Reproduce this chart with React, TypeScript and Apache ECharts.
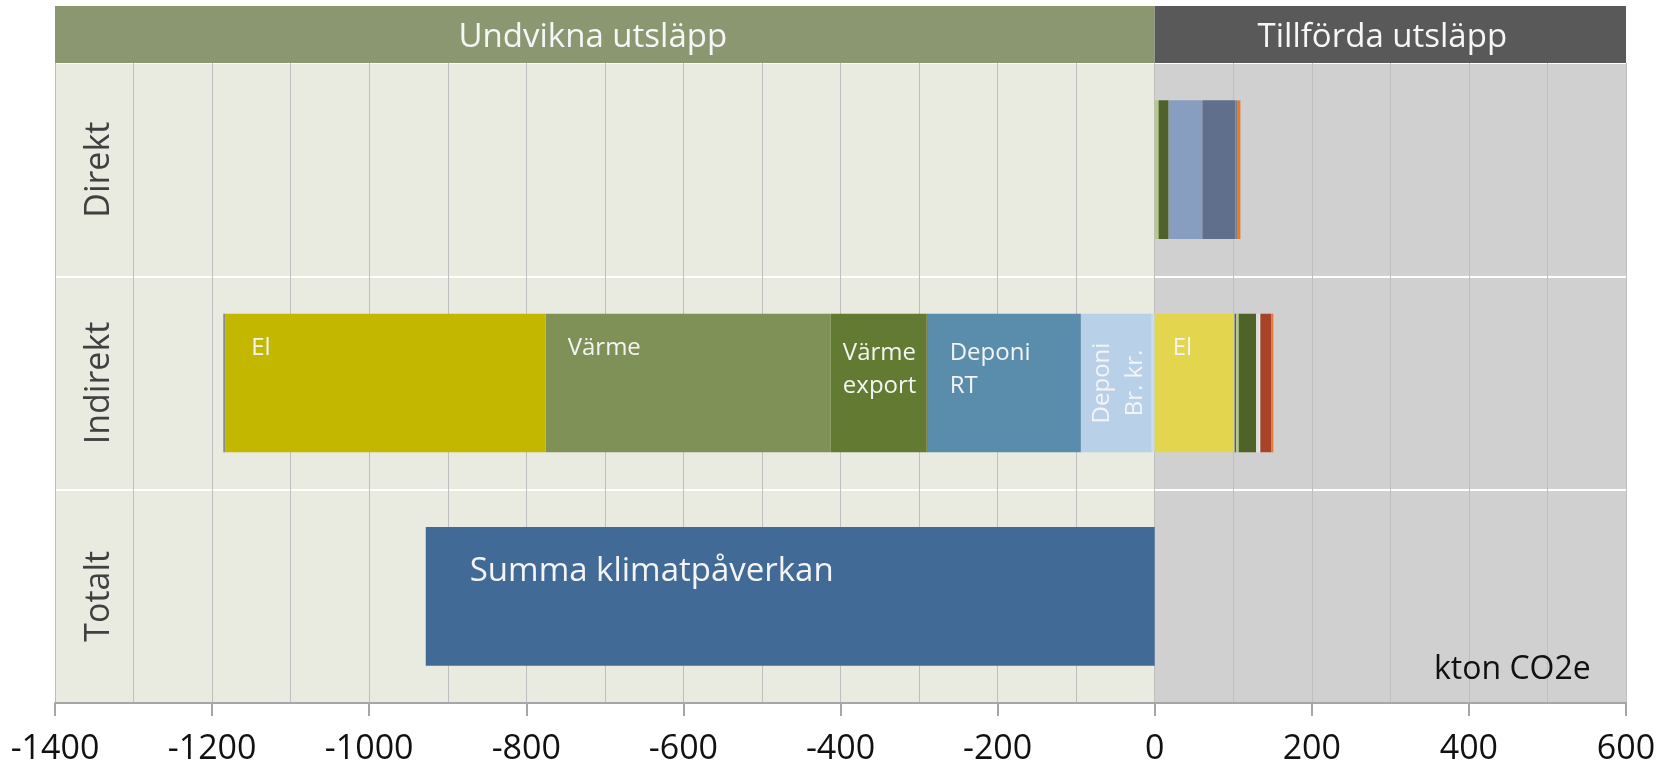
import React, { useEffect, useRef } from 'react';
import * as echarts from 'echarts';

// ---------- data ----------
const categories = ['Direkt', 'Indirekt', 'Totalt'];
const xMin = -1400;
const xMax = 600;
const xStep = 200;
const headerLabels = ['Undvikna utsläpp', 'Tillförda utsläpp'];
const headerStarts = [-1400, 0];
const headerEnds = [0, 600];
const unitLabel = 'kton CO2e';

// values per category: [Direkt, Indirekt, Totalt]
// avoided emissions (negative), listed from 0 outward
const deponiBrKrKant = [0, -4, 0];
const deponiBrKr = [0, -90, 0];
const deponiRT = [0, -195, 0];
const deponiOvrigt = [0, -1.3, 0];
const varmeExport = [0, -122, 0];
const varme = [0, -363, 0];
const elUndviken = [0, -408, 0];
const ovrigtUndviken = [0, -2.5, 0];
// added emissions (positive), listed from 0 outward
const elTillford = [0, 101, 0];
const ovrigtGra = [0, 1.3, 0];
const transport = [0, 1.3, 0];
const kemikalier = [5, 3.4, 0];
const bransle = [12.7, 22, 0];
const fossilPlast = [43, 0, 0];
const fossilOvrigt = [42, 0, 0];
const ljusOvrigt = [0, 3.5, 0];
const blekOvrigt = [0, 2, 0];
const restprodukter = [0, 14, 0];
const lustgas = [3, 0, 0];
const metan = [3.4, 2.5, 0];
// total
const summa = [0, 0, -928];

const seriesDefs = [
  { key: 'deponiBrKrKant', name: 'Deponi Br. kr. övrigt', data: deponiBrKrKant },
  { key: 'deponiBrKr', name: 'Deponi Br. kr.', data: deponiBrKr },
  { key: 'deponiRT', name: 'Deponi RT', data: deponiRT },
  { key: 'deponiOvrigt', name: 'Deponi övrigt', data: deponiOvrigt },
  { key: 'varmeExport', name: 'Värme export', data: varmeExport },
  { key: 'varme', name: 'Värme', data: varme },
  { key: 'elUndviken', name: 'El', data: elUndviken },
  { key: 'ovrigtUndviken', name: 'Övrigt', data: ovrigtUndviken },
  { key: 'elTillford', name: 'El tillförd', data: elTillford },
  { key: 'ovrigtGra', name: 'Övrigt tillfört', data: ovrigtGra },
  { key: 'transport', name: 'Transport', data: transport },
  { key: 'kemikalier', name: 'Kemikalier', data: kemikalier },
  { key: 'bransle', name: 'Bränsle', data: bransle },
  { key: 'fossilPlast', name: 'Fossil plast', data: fossilPlast },
  { key: 'fossilOvrigt', name: 'Fossilt övrigt', data: fossilOvrigt },
  { key: 'ljusOvrigt', name: 'Övrigt 2', data: ljusOvrigt },
  { key: 'blekOvrigt', name: 'Övrigt 3', data: blekOvrigt },
  { key: 'restprodukter', name: 'Restprodukter', data: restprodukter },
  { key: 'lustgas', name: 'Lustgas', data: lustgas },
  { key: 'metan', name: 'Metan', data: metan },
  { key: 'summa', name: 'Summa klimatpåverkan', data: summa },
];

// ---------- styles ----------
const FONT = '"Open Sans", "Noto Sans", sans-serif';
const colors: Record<string, string> = {
  deponiBrKrKant: '#cadcef',
  deponiBrKr: '#b8d0e8',
  deponiRT: '#5a8dab',
  deponiOvrigt: '#a04030',
  varmeExport: '#627a31',
  varme: '#7f9157',
  elUndviken: '#c4b700',
  ovrigtUndviken: '#8c8c8c',
  elTillford: '#e4d54e',
  ovrigtGra: '#a0a0a0',
  transport: '#2e56a8',
  kemikalier: '#b4ca8a',
  bransle: '#4f6229',
  fossilPlast: '#879ec0',
  fossilOvrigt: '#5f6f8c',
  ljusOvrigt: '#dcdcdc',
  blekOvrigt: '#e5ecd9',
  restprodukter: '#a8432a',
  lustgas: '#7f7f7f',
  metan: '#e07c35',
  summa: '#416a96',
};

const barLabels: Record<string, { cat: number; text: string; cfg: any }> = {
  elUndviken: { cat: 1, text: 'El', cfg: { position: [26, 20] } },
  varme: { cat: 1, text: 'Värme', cfg: { position: [22, 20] } },
  varmeExport: { cat: 1, text: 'Värme\nexport', cfg: { position: [12, 20], lineHeight: 33 } },
  deponiRT: { cat: 1, text: 'Deponi\nRT', cfg: { position: [22, 20], lineHeight: 33 } },
  deponiBrKr: { cat: 1, text: 'Deponi\nBr. kr.', cfg: { position: 'inside', rotate: 90, lineHeight: 33 } },
  elTillford: { cat: 1, text: 'El', cfg: { position: [18, 20] } },
  summa: { cat: 2, text: 'Summa klimatpåverkan', cfg: { position: [44, 25], fontSize: 33 } },
};

export default function App() {
  const ref = useRef<HTMLDivElement>(null);
  useEffect(() => {
    if (!ref.current) return;
    const chart = echarts.init(ref.current, undefined, { renderer: 'svg' });

    const barSeries = seriesDefs.map((s) => {
      const lab = barLabels[s.key];
      return {
        type: 'bar',
        name: s.name,
        stack: 'total',
        barWidth: '65%',
        z: 3,
        itemStyle: { color: colors[s.key] },
        data: s.data.map((v, i) => {
          const val = v === 0 ? '-' : v;
          if (lab && lab.cat === i) {
            return {
              value: val,
              label: {
                show: true,
                formatter: lab.text,
                color: '#f4f4f4',
                fontSize: 24,
                fontFamily: FONT,
                align: 'left',
                verticalAlign: 'top',
                ...lab.cfg,
                ...(lab.cfg.position === 'inside' ? { align: 'center', verticalAlign: 'middle' } : {}),
              },
            };
          }
          return val;
        }),
      };
    });

    const regionColors = ['#e9ebe1', '#d0d0d0'];
    const headerColors = ['#8b9771', '#595959'];
    const headerShift = [-12, -8];

    const option: any = {
      animation: false,
      grid: [
        { left: 55, right: 42, top: 63, bottom: 69 },
        { left: 55, right: 42, top: 6, height: 57 },
      ],
      xAxis: [
        {
          type: 'value',
          gridIndex: 0,
          min: xMin,
          max: xMax,
          interval: xStep,
          z: 1,
          axisLine: { show: true, onZero: false, lineStyle: { color: '#a6a6a6', width: 2 } },
          axisTick: { show: true, length: 13, lineStyle: { color: '#a6a6a6', width: 2 } },
          axisLabel: {
            fontSize: 34,
            lineHeight: 34,
            color: '#111',
            margin: 26,
            fontFamily: FONT,
            formatter: (v: number) => String(v),
          },
          splitLine: { show: true, lineStyle: { color: '#bfbfbf', width: 1 } },
          minorTick: { show: false, splitNumber: 2 },
          minorSplitLine: { show: true, lineStyle: { color: '#bfbfbf', width: 1 } },
        },
        { type: 'value', gridIndex: 1, min: xMin, max: xMax, show: false },
      ],
      yAxis: [
        {
          type: 'category',
          gridIndex: 0,
          inverse: true,
          data: categories,
          z: 0,
          axisLine: { show: false },
          axisTick: { show: false },
          axisLabel: { rotate: 90, margin: -58, fontSize: 34, color: '#404040', fontFamily: FONT },
          splitLine: { show: true, lineStyle: { color: '#ffffff', width: 2 } },
        },
        { type: 'value', gridIndex: 1, min: 0, max: 1, show: false },
      ],
      series: [
        {
          type: 'custom',
          name: 'bakgrund',
          xAxisIndex: 0,
          yAxisIndex: 0,
          z: -5,
          silent: true,
          encode: { x: [0, 1], y: 2 },
          data: headerStarts.map((s, i) => [s, headerEnds[i], 0]),
          renderItem: (params: any, api: any) => {
            const x0 = api.coord([api.value(0), 0])[0];
            const x1 = api.coord([api.value(1), 0])[0];
            const cs = params.coordSys;
            return {
              type: 'rect',
              shape: { x: x0, y: cs.y, width: x1 - x0, height: cs.height },
              style: { fill: regionColors[params.dataIndex] },
            };
          },
        },
        {
          type: 'custom',
          name: 'rubrik',
          xAxisIndex: 1,
          yAxisIndex: 1,
          silent: true,
          encode: { x: [0, 1], y: 2 },
          data: headerStarts.map((s, i) => [s, headerEnds[i], 0]),
          renderItem: (params: any, api: any) => {
            const x0 = api.coord([api.value(0), 0])[0];
            const x1 = api.coord([api.value(1), 0])[0];
            const cs = params.coordSys;
            return {
              type: 'group',
              children: [
                {
                  type: 'rect',
                  shape: { x: x0, y: cs.y, width: x1 - x0, height: cs.height },
                  style: { fill: headerColors[params.dataIndex] },
                },
                {
                  type: 'text',
                  style: {
                    text: headerLabels[params.dataIndex],
                    x: (x0 + x1) / 2 + headerShift[params.dataIndex],
                    y: cs.y + cs.height / 2,
                    align: 'center',
                    verticalAlign: 'middle',
                    fill: '#f6f6f6',
                    fontSize: 33,
                    fontFamily: FONT,
                  },
                },
              ],
            };
          },
        },
        ...barSeries,
      ],
      graphic: [
        {
          type: 'text',
          left: 1434,
          top: 650,
          z: 10,
          style: { text: unitLabel, fontSize: 32, fill: '#111', fontFamily: FONT },
        },
      ],
    };
    chart.setOption(option);
    return () => chart.dispose();
  }, []);
  return (
    <div
      ref={ref}
      style={{ position: 'fixed', left: 0, top: 0, width: 1668, height: 772 }}
    />
  );
}
